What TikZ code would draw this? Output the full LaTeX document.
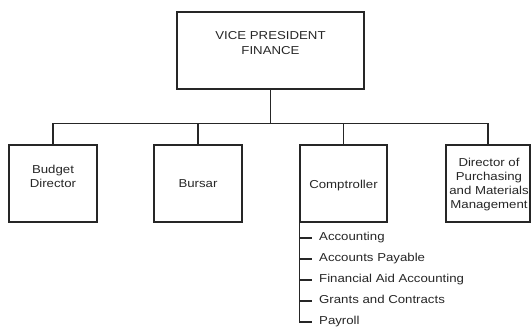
\documentclass[tikz,border=0pt]{standalone}
\usepackage{fontspec}
\setmainfont{Liberation Sans}[FakeStretch=1.15]
\begin{document}
\begin{tikzpicture}[x=1pt, y=-1pt,
  every node/.style={text=black!85, font=\fontsize{11.5}{13.8}\selectfont},
  box/.style={draw=black!85, line width=1.4pt, minimum height=77pt, inner sep=0pt},
  caption/.style={align=center, anchor=base, inner sep=0pt},
  item/.style={anchor=west, inner sep=0pt, text height=8.2pt, text depth=2.5pt},
  wire/.style={draw=black!85, line width=1.4pt}]
\useasboundingbox (0,0) rectangle (531,332);

% head of the division
\node[box, minimum width=187pt] (vp) at (270.5,50.5) {};
% captions are placed by the baseline of their last line
\node[caption, font=\fontsize{11.5}{15}\selectfont] (vptext) at (270.5,54) {VICE PRESIDENT\\FINANCE};

% reporting offices
\node[box, minimum width=88pt] (budget) at (53,183.5) {};
\node[box, minimum width=88pt] (bursar) at (198,183.5) {};
\node[box, minimum width=87pt] (comp) at (343.5,183.5) {};
\node[box, minimum width=84pt] (purch) at (488,183.5) {};

\node[caption] (budgettext) at (53,187) {Budget\\Director};
\node[caption] (bursartext) at (198,187.5) {Bursar};
\node[caption] (comptext) at (343.5,188) {Comptroller};
\node[caption] (purchtext) at (489,208) {Director of\\Purchasing\\and Materials\\Management};

% connectors from the head to each office
\draw[wire] (vp.south) -- ++(0,34) coordinate (bus);
\foreach \n in {budget,bursar,comp,purch}
  \draw[wire] (\n.north) |- (bus);

% units under the comptroller
\foreach \t/\y [count=\i] in {Accounting/238, Accounts Payable/259,
    Financial Aid Accounting/280, Grants and Contracts/301, Payroll/322}
  \node[item] (unit\i) at (319,\y) {\t};
\draw[wire] (comp.south west) -- (comp.south west |- unit5.west) -- ++(13,0);
\foreach \i in {1,...,4}
  \draw[wire] (unit\i.west -| comp.south west) -- ++(13,0);
\end{tikzpicture}
\end{document}
